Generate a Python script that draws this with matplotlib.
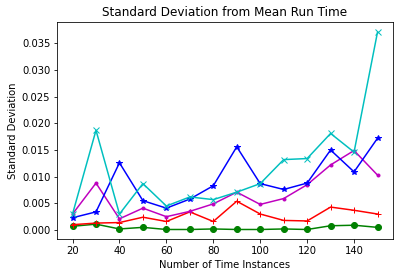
import numpy as np
import matplotlib
matplotlib.use('Agg')
import matplotlib.pyplot as plt

# number of time instances
instances = [20, 30, 40, 50, 60, 70, 80, 90, 100, 110, 120, 130, 140, 150]

# standard deviation from mean run time, one list per series
sd_green = [0.0007, 0.0011, 0.0002, 0.0005, 0.0001, 0.0001, 0.0002, 0.0001,
            0.0001, 0.0002, 0.0001, 0.0008, 0.0009, 0.0005]
sd_red = [0.0010, 0.0013, 0.0014, 0.0024, 0.0016, 0.0034, 0.0016, 0.0054,
          0.0030, 0.0018, 0.0017, 0.0043, 0.0037, 0.0030]
sd_magenta = [0.0030, 0.0088, 0.0021, 0.0041, 0.0025, 0.0035, 0.0049, 0.0071,
              0.0048, 0.0059, 0.0085, 0.0122, 0.0149, 0.0103]
sd_blue = [0.0023, 0.0034, 0.0126, 0.0055, 0.0041, 0.0058, 0.0083, 0.0156,
           0.0087, 0.0076, 0.0088, 0.0150, 0.0109, 0.0172]
sd_cyan = [0.0030, 0.0187, 0.0030, 0.0087, 0.0045, 0.0062, 0.0057, 0.0071,
           0.0087, 0.0132, 0.0134, 0.0181, 0.0146, 0.0371]

fig = plt.figure(figsize=(402/72, 278/72), dpi=72)
ax = fig.add_axes([0.1425, 0.139, 0.8345, 0.781])

ax.plot(instances, sd_green, 'g-o')
ax.plot(instances, sd_red, 'r-+')
ax.plot(instances, sd_magenta, color='m', marker='.')
ax.plot(instances, sd_blue, 'b-*')
ax.plot(instances, sd_cyan, 'c-x')

ax.set_title("Standard Deviation from Mean Run Time")
ax.set_xlabel('Number of Time Instances')
ax.set_ylabel('Standard Deviation')

fig.savefig('out.png', dpi=72)
